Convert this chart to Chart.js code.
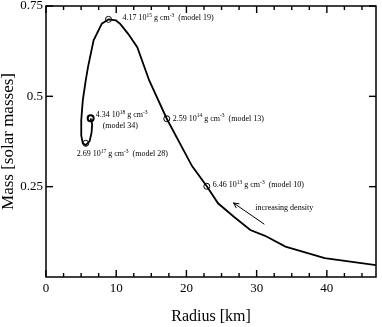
<!DOCTYPE html>
<html>
<head>
<meta charset="utf-8">
<script src="https://cdn.jsdelivr.net/npm/chart.js@4.4.1/dist/chart.umd.min.js"></script>
<style>
  html, body { margin: 0; padding: 0; background: #fff; }
  canvas { display: block; }
</style>
</head>
<body>
<canvas id="chart" width="382" height="327"></canvas>
<script>
// mass-radius curve, from low density (large radius) to model 34
const radius = [47.0, 39.7, 34.1, 31.2, 29.1, 26.8, 24.5, 22.9, 20.8, 17.2, 14.7, 13.0, 11.7, 10.6, 9.97, 8.9, 7.95, 6.78, 5.98, 5.66, 5.24, 5.02, 5.02, 5.24, 5.66, 6.22, 6.5, 6.57, 6.36]
const mass   = [0.033, 0.052, 0.084, 0.114, 0.130, 0.166, 0.204, 0.251, 0.307, 0.438, 0.544, 0.636, 0.673, 0.700, 0.710, 0.713, 0.701, 0.655, 0.581, 0.544, 0.489, 0.434, 0.392, 0.370, 0.365, 0.376, 0.401, 0.423, 0.439]

// marked models
const modelNames   = ['model 10', 'model 13', 'model 19', 'model 28', 'model 34']
const modelDensity = ['6.46 10^{13}', '2.59 10^{14}', '4.17 10^{15}', '2.69 10^{17}', '4.34 10^{18}']
const modelRadius  = [22.9, 17.2, 8.9, 5.66, 6.36]
const modelMass    = [0.251, 0.438, 0.713, 0.370, 0.439]

const xTicks = [0, 10, 20, 30, 40]
const yTicks = [0.25, 0.5, 0.75]

const arrowFrom = [31.1, 0.146]
const arrowTo = [26.7, 0.205]
const arrowText = 'increasing density'
const arrowTextAt = [29.8, 0.19]

// label offsets from each marker, in px (style only)
const labelOffset = [[6, -1], [6, 0], [14, -1], [-9, 11], [5, -3]]

const serif = '"Liberation Serif", "Times New Roman", serif'

function drawRich(ctx, str, x, y){
  const parts = str.split(/\^\{([^}]*)\}/)
  parts.forEach((p, i) => {
    const sup = i % 2 === 1
    ctx.font = (sup ? '5.5px ' : '8px ') + serif
    ctx.fillText(p, x, sup ? y - 3 : y)
    x += ctx.measureText(p).width
  })
}

const frame = {
  id: 'frame',
  afterDraw(c){
    const {ctx, chartArea: a, scales: {x, y}} = c
    ctx.save()
    ctx.fillStyle = '#000'
    ctx.strokeStyle = '#000'
    // tick marks, pointing inward
    for(let v = 0; v <= x.max; v += 2.5){
      const px = x.getPixelForValue(v)
      const len = xTicks.includes(v) ? 7 : 4
      ctx.fillRect(px - 0.7, a.bottom - len, 1.4, len)
      ctx.fillRect(px - 0.7, a.top, 1.4, len)
    }
    yTicks.forEach(v => {
      const py = y.getPixelForValue(v)
      ctx.fillRect(a.left, py - 0.7, 7, 1.4)
      ctx.fillRect(a.right - 7, py - 0.7, 7, 1.4)
    })
    ctx.lineWidth = 1.5
    ctx.strokeRect(a.left, a.top, a.right - a.left, a.bottom - a.top)

    // annotations
    ctx.textBaseline = 'middle'
    ctx.textAlign = 'left'
    modelNames.forEach((name, i) => {
      const px = x.getPixelForValue(modelRadius[i])
      const py = y.getPixelForValue(modelMass[i])
      const [dx, dy] = labelOffset[i]
      if(name === 'model 34'){
        drawRich(ctx, modelDensity[i] + ' g cm^{-3}', px + dx, py + dy)
        drawRich(ctx, '(' + name + ')', px + dx + 7, py + dy + 11)
      } else {
        drawRich(ctx, modelDensity[i] + ' g cm^{-3}  (' + name + ')', px + dx, py + dy)
      }
    })

    // arrow
    const ax1 = x.getPixelForValue(arrowFrom[0]), ay1 = y.getPixelForValue(arrowFrom[1])
    const ax2 = x.getPixelForValue(arrowTo[0]), ay2 = y.getPixelForValue(arrowTo[1])
    const ang = Math.atan2(ay2 - ay1, ax2 - ax1)
    ctx.lineWidth = 1
    ctx.beginPath()
    ctx.moveTo(ax1, ay1)
    ctx.lineTo(ax2, ay2)
    ctx.moveTo(ax2 - 6 * Math.cos(ang + 0.45), ay2 - 6 * Math.sin(ang + 0.45))
    ctx.lineTo(ax2, ay2)
    ctx.lineTo(ax2 - 6 * Math.cos(ang - 0.45), ay2 - 6 * Math.sin(ang - 0.45))
    ctx.stroke()
    drawRich(ctx, arrowText, x.getPixelForValue(arrowTextAt[0]), y.getPixelForValue(arrowTextAt[1]))
    ctx.restore()
  }
}

const ctx = document.getElementById('chart').getContext('2d')
new Chart(ctx, {
  type: 'scatter',
  data: {
    datasets: [
      {
        data: radius.map((r, i) => ({x: r, y: mass[i]})),
        showLine: true, borderColor: '#000', borderWidth: 1.8, pointRadius: 0, tension: 0
      },
      {
        data: modelRadius.map((r, i) => ({x: r, y: modelMass[i]})),
        showLine: false, pointRadius: 3, borderColor: '#000', backgroundColor: 'rgba(0,0,0,0)',
        pointBorderWidth: [1, 1, 1, 1, 2]
      }
    ]
  },
  options: {
    responsive: false,
    animation: false,
    layout: {padding: {top: 5.5, right: 1, left: 0, bottom: 0}},
    plugins: {legend: {display: false}, tooltip: {enabled: false}},
    scales: {
      x: {
        type: 'linear', min: 0, max: 47,
        ticks: {stepSize: 10, includeBounds: false, color: '#000', padding: 4, maxRotation: 0,
                font: {family: serif, size: 13}},
        grid: {display: false, drawTicks: false},
        border: {display: false},
        title: {display: true, text: 'Radius [km]', color: '#000',
                font: {family: serif, size: 16, lineHeight: 1}, padding: {top: 0, bottom: 2}},
        afterFit(s){ s.height = 50; s.paddingLeft = 0; s.paddingRight = 0 }
      },
      y: {
        type: 'linear', min: 0, max: 0.75,
        ticks: {stepSize: 0.25, color: '#000', padding: 3,
                font: {family: serif, size: 13},
                callback: v => v === 0 ? '' : v},
        grid: {display: false, drawTicks: false},
        border: {display: false},
        title: {display: true, text: 'Mass [solar masses]', color: '#000',
                font: {family: serif, size: 17, lineHeight: 1}, padding: {top: 0, bottom: 0}},
        afterFit(s){ s.width = 46; s.paddingTop = 0; s.paddingBottom = 0 }
      }
    }
  },
  plugins: [frame]
})
</script>
</body>
</html>
